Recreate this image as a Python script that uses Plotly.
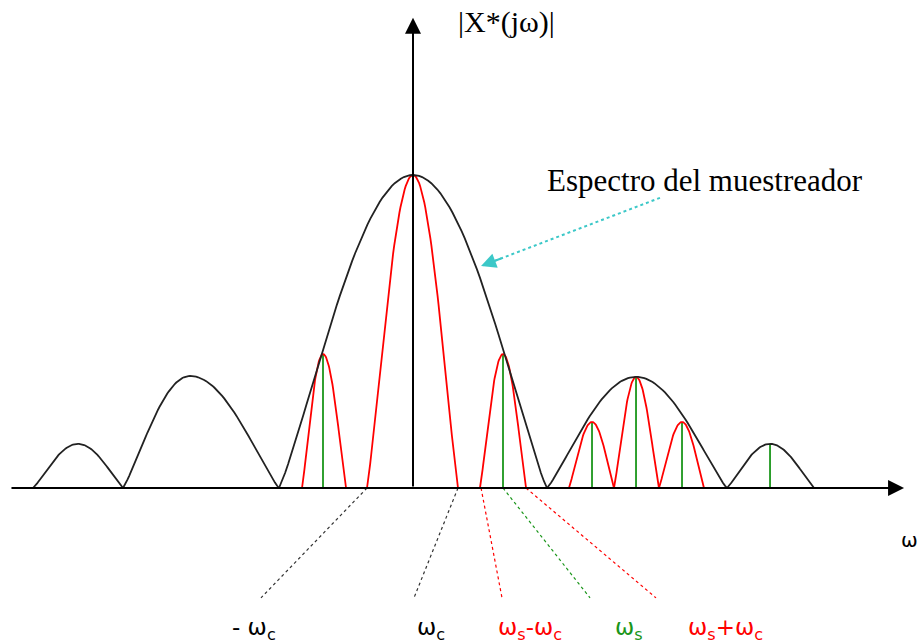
import numpy as np
import plotly.graph_objects as go

# ---------------- data (x in units of ωs, y normalised to the main peak) ----------------
# envelope lobes of the sampler spectrum: left zero, peak position, right zero, peak height
env_left = [-4.222, -3.222, -1.489, 1.489, 3.489]
env_peak = [-3.722, -2.478, 0.0, 2.478, 3.967]
env_right = [-3.222, -1.489, 1.489, 3.489, 4.456]
env_height = [0.141, 0.358, 1.0, 0.355, 0.141]

# red lobes (spectrum replicas)
red_left = [-1.233, -0.511, 0.744, 1.733, 2.233, 2.733]
red_peak = [-1.0, 0.0, 1.0, 1.989, 2.478, 2.989]
red_right = [-0.744, 0.5, 1.256, 2.233, 2.733, 3.233]
red_height = [0.428, 1.0, 0.428, 0.211, 0.355, 0.211]

# green impulses
stem_x = [-1.0, 1.0, 1.989, 2.478, 2.989, 3.967]
stem_h = [0.428, 0.428, 0.211, 0.355, 0.211, 0.141]

# bottom labels and their dotted leader lines
label_text = ["- ω<sub>c</sub>", "ω<sub>c</sub>", "ω<sub>s</sub>-ω<sub>c</sub>", "ω<sub>s</sub>", "ω<sub>s</sub>+ω<sub>c</sub>"]
label_axis_x = [-0.511, 0.5, 0.756, 1.0, 1.256]
label_end_x = [-1.689, 0.011, 0.989, 1.967, 2.7]
label_x = [-1.767, 0.2, 1.3, 2.4, 3.467]
label_colors = ["#000000", "#000000", "#FF0000", "#1A961A", "#FF0000"]
leader_colors = ["#333333", "#333333", "#FF0000", "#1A961A", "#FF0000"]
leader_end_y = -0.351
label_y = -0.452

# axes extents
axis_x_start, axis_x_tip = -4.478, 5.456
axis_y_tip = 1.502

# annotation arrow for the envelope
note_text = "Espectro del muestreador"
note_x, note_y = 1.467, 0.984
note_arrow_start = (2.744, 0.927)
note_arrow_tip = (0.756, 0.709)

title_text = "|X*(jω)|"
title_x, title_y = 0.478, 1.489
omega_text = "ω"
omega_x, omega_y = 5.40, -0.166

# ---------------- figure ----------------
def lobe(l, p, r, h, n=45):
    x1 = np.linspace(l, p, n)
    u1 = (p - x1) / (p - l)
    x2 = np.linspace(p, r, n)[1:]
    u2 = (x2 - p) / (r - p)
    xs = np.concatenate([x1, x2])
    us = np.concatenate([u1, u2])
    ys = h * np.clip(np.cos(np.pi * us / 2), 0, None) ** 1.15
    return list(xs), list(ys)


def lobes(L, P, R, H):
    X, Y = [], []
    for l, p, r, h in zip(L, P, R, H):
        xs, ys = lobe(l, p, r, h)
        X += xs + [None]
        Y += ys + [None]
    return X, Y


fig = go.Figure()

# green stems
sx, sy = [], []
for x, h in zip(stem_x, stem_h):
    sx += [x, x, None]
    sy += [0, h, None]
fig.add_trace(go.Scatter(x=sx, y=sy, mode="lines", line=dict(color="#1A961A", width=1.8), hoverinfo="skip"))

# red lobes
rx, ry = lobes(red_left, red_peak, red_right, red_height)
fig.add_trace(go.Scatter(x=rx, y=ry, mode="lines", line=dict(color="#FF0000", width=1.8), hoverinfo="skip"))

# black envelope
ex, ey = lobes(env_left, env_peak, env_right, env_height)
fig.add_trace(go.Scatter(x=ex, y=ey, mode="lines", line=dict(color="#222222", width=1.8), hoverinfo="skip"))

# dotted leader lines
for x0, x1, c in zip(label_axis_x, label_end_x, leader_colors):
    fig.add_trace(go.Scatter(x=[x0, x1], y=[0, leader_end_y], mode="lines",
                             line=dict(color=c, width=1.2, dash="dot"), hoverinfo="skip"))

# cyan dotted pointer line
fig.add_trace(go.Scatter(x=[note_arrow_start[0], note_arrow_tip[0]], y=[note_arrow_start[1], note_arrow_tip[1]],
                         mode="lines", line=dict(color="#3CC8C8", width=2, dash="dot"), hoverinfo="skip"))

annotations = []
# axes with arrowheads
annotations.append(dict(x=axis_x_tip, y=0, ax=axis_x_start, ay=0, xref="x", yref="y", axref="x", ayref="y",
                        text="", showarrow=True, arrowhead=2, arrowwidth=2, arrowsize=1.6, arrowcolor="black",
                        standoff=0))
annotations.append(dict(x=0, y=axis_y_tip, ax=0, ay=0, xref="x", yref="y", axref="x", ayref="y",
                        text="", showarrow=True, arrowhead=2, arrowwidth=2, arrowsize=1.6, arrowcolor="black",
                        standoff=0))
# cyan arrowhead
tx, ty = note_arrow_tip
sx0, sy0 = note_arrow_start
annotations.append(dict(x=tx, y=ty, ax=tx + 0.12 * (sx0 - tx), ay=ty + 0.12 * (sy0 - ty),
                        xref="x", yref="y", axref="x", ayref="y",
                        text="", showarrow=True, arrowhead=2, arrowwidth=2, arrowsize=1.5, arrowcolor="#3CC8C8",
                        standoff=0))

# texts
annotations.append(dict(x=title_x, y=title_y, xref="x", yref="y", text=title_text, showarrow=False,
                        xanchor="left", yanchor="middle",
                        font=dict(family="Liberation Serif", size=30, color="black")))
annotations.append(dict(x=note_x, y=note_y, xref="x", yref="y", text=note_text, showarrow=False,
                        xanchor="left", yanchor="middle",
                        font=dict(family="Liberation Serif", size=31, color="black")))
annotations.append(dict(x=omega_x, y=omega_y, xref="x", yref="y", text=omega_text, showarrow=False,
                        xanchor="left", yanchor="middle",
                        font=dict(family="DejaVu Sans", size=20, color="black")))
for t, x, c in zip(label_text, label_x, label_colors):
    annotations.append(dict(x=x, y=label_y, xref="x", yref="y", text=t, showarrow=False,
                            xanchor="center", yanchor="middle",
                            font=dict(family="DejaVu Sans", size=23, color=c)))

fig.update_layout(
    width=920, height=643,
    margin=dict(l=0, r=0, t=0, b=0),
    paper_bgcolor="white", plot_bgcolor="white",
    showlegend=False,
    xaxis=dict(range=[-413 / 90, 507 / 90], visible=False, fixedrange=True),
    yaxis=dict(range=[-155 / 313, 488 / 313], visible=False, fixedrange=True),
    annotations=annotations,
)

fig.write_html("out.html", config={"displayModeBar": False},
               post_script="document.body.style.margin='0';document.body.style.overflow='hidden';")
